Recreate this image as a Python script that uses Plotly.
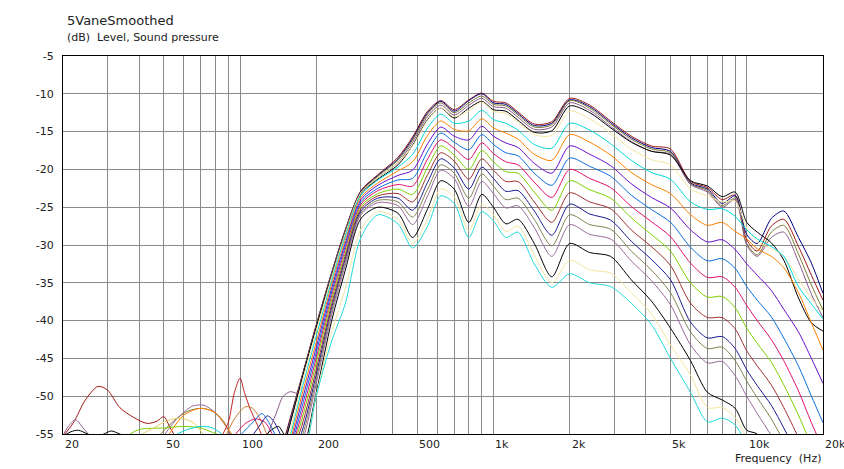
import math
import plotly.graph_objects as go

# ---------------- data ----------------
FREQ = [150, 175, 200, 230, 260, 300, 350, 420, 480, 550,
        620, 700, 800, 900, 1000, 1120, 1250, 1450, 1700, 2000,
        2400, 2900, 3500, 4200, 5000, 6000, 7000, 8000, 9000, 10000,
        11000, 12500, 14000, 16000, 18000, 20000]

LEVEL_00 = [-55.5, -47.5, -40.5, -33.6, -28.0, -22.8, -20.7, -18.4, -15.7, -12.3,
            -10.9, -12.1, -10.8, -9.9, -11.0, -11.2, -12.4, -14.0, -13.7, -10.6,
            -11.5, -13.6, -15.6, -16.9, -17.3, -21.6, -22.4, -24.0, -23.4, -29.3,
            -30.8, -27.5, -26.6, -30.2, -34.0, -37.3]
LEVEL_01 = [-55.8, -47.6, -40.6, -33.7, -28.1, -22.9, -20.8, -18.6, -15.9, -12.5,
            -11.0, -12.3, -10.9, -10.0, -11.2, -11.4, -12.6, -14.2, -13.9, -10.8,
            -11.7, -13.8, -15.8, -17.1, -17.6, -21.8, -22.6, -24.5, -23.5, -28.6,
            -29.8, -26.5, -25.5, -29.0, -32.4, -36.4]
LEVEL_02 = [-56.0, -47.7, -40.7, -33.8, -28.2, -23.0, -20.9, -18.8, -16.1, -12.7,
            -11.2, -12.5, -11.2, -10.3, -11.4, -11.6, -12.8, -14.4, -14.1, -10.9,
            -11.9, -14.0, -16.0, -17.3, -17.8, -21.9, -22.8, -24.8, -23.8, -29.8,
            -31.3, -28.3, -27.4, -31.2, -35.3, -38.6]
LEVEL_03 = [-56.2, -47.8, -40.8, -33.9, -28.3, -23.1, -21.1, -19.1, -16.4, -13.0,
            -11.5, -12.8, -11.5, -10.6, -11.7, -11.9, -13.1, -14.7, -14.4, -11.2,
            -12.2, -14.3, -16.3, -17.6, -18.0, -22.0, -23.0, -25.0, -24.0, -30.0,
            -31.5, -29.0, -28.3, -32.2, -36.5, -39.6]
LEVEL_04 = [-56.4, -47.9, -40.9, -34.0, -28.4, -23.2, -21.3, -19.4, -16.8, -13.4,
            -11.9, -13.2, -11.9, -11.0, -12.1, -12.3, -13.5, -15.1, -14.9, -11.6,
            -12.5, -14.5, -16.4, -17.6, -18.1, -21.5, -22.2, -23.6, -23.0, -27.0,
            -28.3, -29.7, -32.0, -37.0, -40.3, -41.4]
LEVEL_05 = [-58.0, -48.4, -41.3, -34.2, -28.5, -23.1, -21.1, -19.1, -16.9, -13.5,
            -11.9, -13.0, -12.3, -11.1, -12.3, -12.6, -13.7, -15.4, -15.5, -12.3,
            -13.3, -15.2, -17.3, -18.7, -19.4, -22.6, -23.5, -24.3, -24.2, -27.8,
            -29.5, -30.5, -31.5, -34.5, -37.0, -38.8]
LEVEL_06 = [-58.5, -49.2, -42.0, -34.7, -28.9, -23.4, -21.4, -19.7, -18.0, -14.5,
            -12.7, -13.9, -13.6, -12.2, -13.4, -13.9, -14.8, -16.7, -17.2, -13.9,
            -14.8, -16.6, -18.8, -20.4, -21.3, -24.3, -25.3, -25.2, -26.2, -28.0,
            -29.2, -30.2, -31.5, -35.5, -37.8, -39.8]
LEVEL_07 = [-59.0, -50.0, -42.8, -35.2, -29.4, -23.7, -21.8, -20.2, -19.0, -15.5,
            -13.6, -14.7, -14.9, -13.3, -14.5, -15.2, -16.0, -18.0, -18.8, -15.4,
            -16.4, -18.1, -20.4, -22.0, -23.2, -26.0, -27.4, -27.0, -28.2, -29.2,
            -30.5, -31.5, -33.0, -36.3, -40.3, -43.9]
LEVEL_08 = [-59.5, -50.8, -43.5, -35.7, -29.8, -24.0, -22.1, -20.8, -20.1, -16.6,
            -14.4, -15.6, -16.1, -14.3, -15.6, -16.5, -17.1, -19.2, -20.5, -16.9,
            -18.0, -19.5, -21.9, -23.7, -25.1, -28.0, -29.6, -29.3, -30.6, -32.5,
            -34.0, -36.0, -38.5, -41.5, -45.0, -48.3]
LEVEL_09 = [-60.0, -51.6, -44.2, -36.2, -30.2, -24.3, -22.5, -21.4, -21.2, -17.6,
            -15.2, -16.4, -17.4, -15.4, -16.7, -17.8, -18.2, -20.5, -22.1, -18.5,
            -19.6, -20.9, -23.4, -25.3, -27.0, -30.3, -32.1, -31.8, -33.1, -35.5,
            -37.3, -39.5, -42.3, -46.0, -50.0, -53.5]
LEVEL_10 = [-60.0, -52.4, -44.9, -36.7, -30.6, -24.6, -22.8, -22.0, -22.2, -18.6,
            -16.1, -17.2, -18.7, -16.5, -17.9, -19.0, -19.4, -21.7, -23.7, -20.0,
            -21.2, -22.4, -24.9, -26.9, -28.9, -32.4, -34.3, -34.2, -35.6, -38.0,
            -40.0, -42.5, -45.3, -49.3, -53.5, -57.0]
LEVEL_11 = [-60.0, -53.2, -45.6, -37.2, -31.1, -24.9, -23.2, -22.6, -23.3, -19.7,
            -16.9, -18.1, -20.0, -17.5, -19.0, -20.3, -20.5, -23.0, -25.4, -21.5,
            -22.7, -23.8, -26.4, -28.6, -30.8, -35.0, -36.9, -36.8, -38.3, -41.0,
            -43.0, -45.5, -48.5, -52.5, -56.5, -60.0]
LEVEL_12 = [-60.0, -54.0, -46.4, -37.8, -31.5, -25.2, -23.5, -23.2, -24.3, -20.7,
            -17.8, -18.9, -21.3, -18.6, -20.1, -21.6, -21.6, -24.3, -27.0, -23.1,
            -24.3, -25.2, -28.0, -30.2, -32.7, -37.7, -39.6, -39.6, -41.1, -44.0,
            -46.0, -48.5, -51.5, -55.5, -59.5, -63.0]
LEVEL_13 = [-60.0, -54.8, -47.1, -38.3, -31.9, -25.5, -23.8, -23.8, -25.4, -21.7,
            -18.6, -19.8, -22.6, -19.7, -21.2, -22.9, -22.8, -25.5, -28.7, -24.6,
            -25.9, -26.7, -29.5, -31.9, -34.6, -40.2, -42.3, -42.1, -43.7, -46.5,
            -48.6, -51.2, -54.2, -58.0, -62.0, -65.0]
LEVEL_14 = [-60.0, -55.5, -47.7, -38.7, -32.3, -25.8, -24.1, -24.3, -26.3, -22.6,
            -19.4, -20.5, -23.8, -20.6, -22.2, -24.0, -23.8, -26.6, -30.1, -26.0,
            -27.3, -27.9, -30.8, -33.3, -36.3, -41.5, -43.7, -43.5, -45.3, -48.0,
            -50.2, -53.0, -56.0, -60.0, -64.0, -67.0]
LEVEL_15 = [-60.0, -56.2, -48.3, -39.2, -32.7, -26.0, -24.4, -24.8, -27.3, -23.5,
            -20.1, -21.2, -24.9, -21.6, -23.2, -25.1, -24.8, -27.7, -31.5, -27.3,
            -28.6, -29.2, -32.1, -34.7, -37.9, -43.2, -45.6, -45.4, -47.3, -50.0,
            -52.3, -55.2, -58.0, -62.0, -66.0, -69.0]
LEVEL_16 = [-60.0, -57.5, -49.5, -40.0, -33.4, -26.5, -25.0, -25.8, -29.0, -25.2,
            -21.5, -22.6, -27.0, -23.3, -25.0, -27.2, -26.6, -29.8, -34.2, -29.8,
            -31.0, -31.5, -34.6, -37.4, -41.0, -45.3, -49.5, -50.5, -51.6, -54.5,
            -55.0, -58.0, -62.0, -66.0, -70.0, -72.0]
LEVEL_17 = [-60.0, -58.3, -49.8, -41.5, -35.8, -27.9, -25.6, -26.6, -29.8, -26.5,
            -22.6, -23.6, -28.1, -24.6, -26.0, -28.2, -27.5, -31.3, -35.0, -32.0,
            -33.3, -33.7, -36.3, -39.1, -43.2, -47.2, -51.5, -51.5, -52.8, -55.5,
            -57.5, -60.0, -64.0, -68.0, -72.0, -74.0]
LEVEL_18 = [-62.0, -59.0, -50.0, -42.7, -37.8, -29.0, -26.0, -27.2, -30.4, -27.5,
            -23.5, -24.5, -29.0, -25.6, -26.8, -29.0, -28.3, -32.5, -35.6, -33.8,
            -35.0, -35.5, -37.7, -40.5, -45.0, -49.5, -53.4, -52.9, -53.8, -56.5,
            -59.0, -62.0, -66.0, -70.0, -74.0, -76.0]

CURVE_COLORS = ["#a01818", "#000080", "#7a7a30", "#8b5a8b", "#000000",
                "#f3e6a0", "#00d8d8", "#ff8000", "#6a0dcc", "#0a6ee0",
                "#e0106e", "#7ed000", "#a03030", "#1a1a90", "#808050",
                "#9a6a9a", "#000000", "#f3e6a0", "#20d8d8"]

# low-frequency noise floor segments (frequency, level, colour)
NOISE_FREQ = [
    [20, 22, 24.5, 27.5, 30, 33.5, 38, 43, 47, 50, 53, 57],
    [19.8, 21, 22.4, 24, 26],
    [20, 21.5, 23, 25, 27, 29, 31, 33.5, 36],
    [48, 55, 62, 70, 78, 86, 92],
    [50, 57, 65, 72, 80, 88, 93],
    [52, 60, 70, 80, 90, 95],
    [36, 40, 50, 60, 70, 78, 85],
    [40, 45, 52, 58, 66, 72],
    [55, 62, 70, 78, 86],
    [85, 90, 95, 100, 104, 110, 116, 122],
    [88, 95, 105, 112, 120, 128],
    [95, 105, 115, 125, 135],
    [100, 112, 122, 130, 138],
    [112, 120, 128, 135, 145],
    [128, 138, 148, 158, 168, 175],
    [125, 135, 142, 150],
]
NOISE_LEVEL = [
    [-55.3, -53.5, -50.5, -48.7, -49.2, -51.5, -52.8, -53.6, -53.3, -52.7, -54.2, -56.0],
    [-55.5, -54.0, -53.1, -54.2, -55.6],
    [-55.3, -54.7, -54.5, -55.0, -55.4, -55.0, -54.6, -55.0, -55.5],
    [-55.2, -53.2, -52.0, -51.6, -52.0, -53.3, -55.2],
    [-55.2, -52.8, -51.3, -51.2, -52.2, -54.0, -55.5],
    [-55.2, -52.5, -51.6, -52.2, -54.4, -55.5],
    [-55.2, -54.4, -54.2, -54.0, -54.2, -54.8, -55.3],
    [-55.2, -54.3, -53.2, -52.9, -53.6, -55.2],
    [-55.2, -54.4, -54.0, -54.2, -55.2],
    [-55.2, -53.4, -49.5, -47.6, -49.5, -51.8, -53.5, -55.2],
    [-55.2, -53.0, -51.4, -51.6, -53.0, -55.2],
    [-55.2, -53.6, -53.0, -53.4, -55.2],
    [-55.2, -53.5, -52.3, -53.5, -55.2],
    [-55.2, -53.8, -52.6, -53.2, -55.2],
    [-55.2, -52.5, -50.0, -49.4, -49.6, -48.8],
    [-55.3, -54.3, -54.0, -55.3],
]
NOISE_COLOR = ["#a01818", "#8b5a8b", "#000000", "#7a7a30", "#9a6a9a", "#ff8000",
               "#7ed000", "#e8d060", "#00d8d8", "#c02020", "#c87830", "#e0106e",
               "#0a6ee0", "#1a1a90", "#8b5a8b", "#000000"]

X_GRID = [20, 30, 40, 50, 60, 70, 80, 90,
          100, 200, 300, 400, 500, 600, 700, 800, 900,
          1000, 2000, 3000, 4000, 5000, 6000, 7000, 8000, 9000,
          10000, 20000]
X_TICK_VALUES = [20, 50, 100, 200, 500, 1000, 2000, 5000, 10000, 20000]
X_TICK_LABELS = ["20", "50", "100", "200", "500", "1k", "2k", "5k", "10k", "20k"]
Y_TICK_VALUES = [-55, -50, -45, -40, -35, -30, -25, -20, -15, -10, -5]
Y_TICK_LABELS = ["-55", "-50", "-45", "-40", "-35", "-30", "-25", "-20", "-15", "-10", "-5"]

TITLE = "5VaneSmoothed"
SUBTITLE = "(dB)\u00a0 Level, Sound pressure"
X_TITLE = "Frequency\u00a0 (Hz)"

# ---------------- figure ----------------
FONT = "DejaVu Sans, Verdana, sans-serif"
fig = go.Figure()

for fx, fy, col in zip(NOISE_FREQ, NOISE_LEVEL, NOISE_COLOR):
    fig.add_trace(go.Scatter(x=fx, y=fy, mode="lines",
                             line=dict(color=col, width=1, shape="spline", smoothing=0.8),
                             hoverinfo="skip", showlegend=False))

levels = [LEVEL_00, LEVEL_01, LEVEL_02, LEVEL_03, LEVEL_04, LEVEL_05, LEVEL_06,
          LEVEL_07, LEVEL_08, LEVEL_09, LEVEL_10, LEVEL_11, LEVEL_12, LEVEL_13,
          LEVEL_14, LEVEL_15, LEVEL_16, LEVEL_17, LEVEL_18]
for lv, col in zip(levels, CURVE_COLORS):
    fig.add_trace(go.Scatter(x=FREQ, y=lv, mode="lines",
                             line=dict(color=col, width=1, shape="spline", smoothing=0.8),
                             hoverinfo="skip", showlegend=False))

annotations = []
for v, t in zip(X_TICK_VALUES, X_TICK_LABELS):
    annotations.append(dict(x=math.log10(v), y=-0.006, xref="x", yref="paper",
                            text=t, showarrow=False, xanchor="left", yanchor="top",
                            xshift=0, font=dict(family=FONT, size=11, color="#222")))
annotations.append(dict(x=0.002, y=1.095, xref="paper", yref="paper", text=TITLE,
                        showarrow=False, xanchor="left", yanchor="middle",
                        font=dict(family=FONT, size=13, color="#222")))
annotations.append(dict(x=0.002, y=1.048, xref="paper", yref="paper", text=SUBTITLE,
                        showarrow=False, xanchor="left", yanchor="middle",
                        font=dict(family=FONT, size=11, color="#222")))
annotations.append(dict(x=1.0, y=-0.064, xref="paper", yref="paper", text=X_TITLE,
                        showarrow=False, xanchor="right", yanchor="middle",
                        font=dict(family=FONT, size=11, color="#222")))

fig.update_layout(
    width=844, height=469,
    margin=dict(l=63, r=21, t=56, b=35),
    paper_bgcolor="white", plot_bgcolor="white",
    showlegend=False,
    font=dict(family=FONT, size=11, color="#222"),
    annotations=annotations,
)
fig.update_xaxes(type="log", range=[math.log10(20), math.log10(20000)],
                 tickmode="array", tickvals=X_GRID, showticklabels=False, ticks="",
                 showgrid=True, gridcolor="#8a8a8a", gridwidth=1,
                 showline=True, linecolor="#000000", linewidth=1, mirror=True,
                 zeroline=False, automargin=False, fixedrange=True)
fig.update_yaxes(range=[-55, -5], tickmode="array", tickvals=Y_TICK_VALUES,
                 ticktext=Y_TICK_LABELS, ticks="", ticklabelstandoff=6,
                 showgrid=True, gridcolor="#8a8a8a", gridwidth=1,
                 showline=True, linecolor="#000000", linewidth=1, mirror=True,
                 zeroline=False, automargin=False, fixedrange=True)

# remove the default page margin so the 844x469 figure fills the window exactly
fig.write_html("out.html", config={"displayModeBar": False},
               post_script="document.body.style.margin='0';document.body.style.overflow='hidden';")
